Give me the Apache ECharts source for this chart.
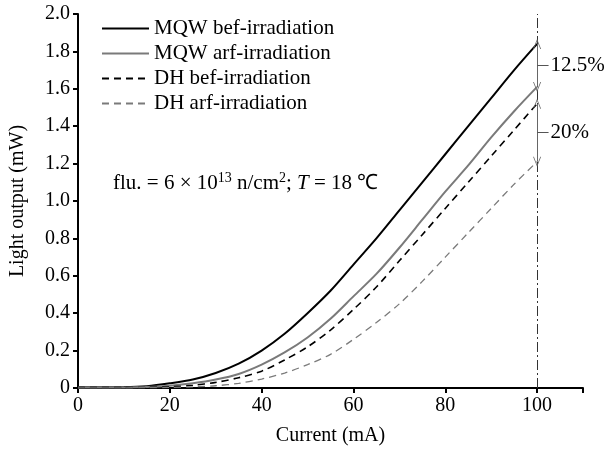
<!DOCTYPE html>
<html>
<head>
<meta charset="utf-8">
<script src="https://cdn.jsdelivr.net/npm/echarts@6/dist/echarts.min.js"></script>
<style>
  html, body { margin: 0; padding: 0; background: #fff; }
  #chart { width: 606px; height: 452px; }
</style>
</head>
<body>
<div id="chart"></div>
<script>
// current (mA)
const current = [0, 10, 15, 20, 25, 30, 35, 40, 45, 50, 55, 60, 65, 70, 75, 80, 85, 90, 95, 100];
// light output (mW)
const mqwBef = [0.004, 0.005, 0.01, 0.025, 0.045, 0.08, 0.13, 0.2, 0.29, 0.4, 0.52, 0.66, 0.8, 0.95, 1.1, 1.25, 1.4, 1.55, 1.7, 1.84];
const mqwArf = [0.003, 0.003, 0.005, 0.012, 0.025, 0.045, 0.075, 0.125, 0.19, 0.27, 0.37, 0.49, 0.61, 0.75, 0.9, 1.05, 1.19, 1.34, 1.48, 1.61];
const dhBef = [0.002, 0.002, 0.003, 0.006, 0.015, 0.03, 0.055, 0.09, 0.15, 0.22, 0.31, 0.42, 0.54, 0.68, 0.82, 0.96, 1.1, 1.24, 1.38, 1.52];
const dhArf = [0.001, 0.001, 0.002, 0.003, 0.006, 0.012, 0.025, 0.048, 0.08, 0.125, 0.18, 0.26, 0.35, 0.45, 0.57, 0.7, 0.83, 0.96, 1.09, 1.21];
const seriesNames = ['MQW bef-irradiation', 'MQW arf-irradiation', 'DH bef-irradiation', 'DH arf-irradiation'];
const xTicks = [0, 20, 40, 60, 80, 100, 110];
const xLabels = [0, 20, 40, 60, 80, 100];
const drops = ['12.5%', '20%'];

const FONT = '"Liberation Serif", "Times New Roman", serif';
const last = a => a[a.length - 1];
const pairs = ys => current.map((x, i) => [x, ys[i]]);

// chevron used as an open arrow head
const chevron = 'path://M0,10 L5,0 L10,10 L9,10 L5,2 L1,10 Z';

const chart = echarts.init(document.getElementById('chart'));

const lineSeries = (name, ys, color, width, dashed) => ({
  name: name,
  type: 'line',
  data: pairs(ys),
  smooth: 0.3,
  showSymbol: false,
  symbol: 'none',
  lineStyle: { color: color, width: width, type: dashed ? [7, 5] : 'solid' },
  itemStyle: { color: color },
  z: 3
});

const option = {
  animation: false,
  textStyle: { fontFamily: FONT },
  grid: { left: 78, right: 23, top: 14, bottom: 64, containLabel: false },
  legend: {
    orient: 'vertical',
    left: 96,
    top: 13,
    itemWidth: 47,
    itemHeight: 14,
    itemGap: 4,
    itemStyle: { opacity: 0 },
    textStyle: { fontFamily: FONT, fontSize: 21, color: '#000' },
    data: seriesNames
  },
  xAxis: {
    type: 'value',
    min: 0,
    max: 110,
    interval: 20,
    name: 'Current (mA)',
    nameLocation: 'middle',
    nameGap: 38,
    nameTextStyle: { fontFamily: FONT, fontSize: 20, color: '#000' },
    axisLine: { lineStyle: { color: '#000', width: 2 } },
    axisTick: { show: true, inside: false, length: 5, lineStyle: { color: '#000', width: 2 }, customValues: xTicks },
    axisLabel: { fontFamily: FONT, fontSize: 20, color: '#000', margin: 8, customValues: xLabels },
    splitLine: { show: false }
  },
  yAxis: {
    type: 'value',
    min: 0,
    max: 2,
    interval: 0.2,
    name: 'Light output (mW)',
    nameLocation: 'middle',
    nameGap: 50,
    nameTextStyle: { fontFamily: FONT, fontSize: 20, color: '#000' },
    axisLine: { show: true, lineStyle: { color: '#000', width: 2 } },
    axisTick: { show: true, inside: false, length: 5, lineStyle: { color: '#000', width: 2 } },
    axisLabel: {
      fontFamily: FONT, fontSize: 20, color: '#000', margin: 8,
      formatter: v => (v === 0 ? '0' : v.toFixed(1))
    },
    splitLine: { show: false }
  },
  series: [
    Object.assign(lineSeries(seriesNames[0], mqwBef, '#000', 2, false), {
      markLine: {
        silent: true,
        symbol: 'none',
        label: { show: false },
        lineStyle: { color: '#333', width: 1, type: [10, 3, 2, 3] },
        data: [{ xAxis: 100 }]
      }
    }),
    Object.assign(lineSeries(seriesNames[1], mqwArf, '#7a7a7a', 2, false), {
      markLine: {
        silent: true,
        symbol: [chevron, chevron],
        symbolSize: [8, 10],
        label: { show: false },
        lineStyle: { color: '#666', width: 1, type: 'solid' },
        data: [
          [{ coord: [100, last(mqwBef)] }, { coord: [100, last(mqwArf)] }],
          [{ coord: [100, last(dhBef)] }, { coord: [100, last(dhArf)] }]
        ]
      }
    }),
    Object.assign(lineSeries(seriesNames[2], dhBef, '#000', 1.6, true), {
      markLine: {
        silent: true,
        symbol: 'none',
        lineStyle: { color: '#555', width: 1, type: 'solid' },
        label: {
          show: true,
          position: 'end',
          distance: 2,
          fontFamily: FONT,
          fontSize: 21,
          color: '#000',
          formatter: p => p.name
        },
        data: [
          [{ name: drops[0], coord: [100, (last(mqwBef) + last(mqwArf)) / 2] }, { coord: [102.5, (last(mqwBef) + last(mqwArf)) / 2] }],
          [{ name: drops[1], coord: [100, (last(dhBef) + last(dhArf)) / 2] }, { coord: [102.5, (last(dhBef) + last(dhArf)) / 2] }]
        ]
      }
    }),
    lineSeries(seriesNames[3], dhArf, '#7a7a7a', 1.3, true)
  ],
  graphic: [
    {
      type: 'text',
      left: 113,
      top: 171,
      style: {
        text: '{a|flu. = 6 × 10}{s|13}{a| n/cm}{s|2}{a|; }{i|T}{a| = 18 ℃}',
        rich: {
          a: { fontFamily: FONT, fontSize: 21, color: '#000', lineHeight: 25 },
          s: { fontFamily: FONT, fontSize: 14, color: '#000', verticalAlign: 'top', lineHeight: 25, padding: [0, 0, 8, 0] },
          i: { fontFamily: FONT, fontSize: 21, color: '#000', fontStyle: 'italic', lineHeight: 25 }
        }
      }
    }
  ]
};

chart.setOption(option);
</script>
</body>
</html>
